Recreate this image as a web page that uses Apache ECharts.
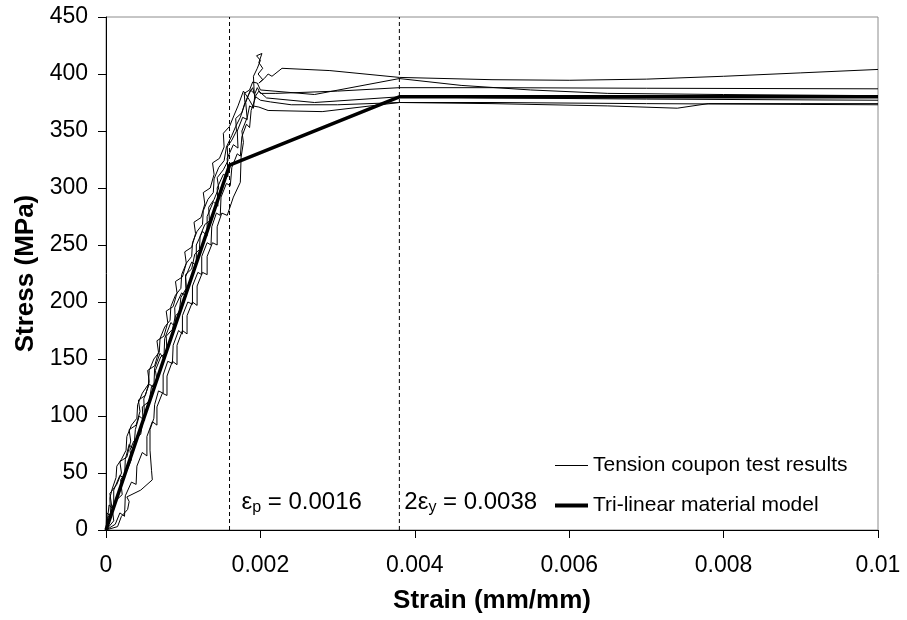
<!DOCTYPE html>
<html>
<head>
<meta charset="utf-8">
<script src="https://cdn.jsdelivr.net/npm/echarts@6/dist/echarts.min.js"></script>
<style>html,body{margin:0;padding:0;background:#fff}#c{width:907px;height:620px}</style>
</head>
<body>
<div id="c"></div>
<script>
// ---- data (strain mm/mm, stress MPa) ----
var test1 = [[0,0],[0.00002,10],[0.00004,22],[0.0001,18],[0.0001,35],[0.00018,48],[0.00024,45],[0.00025,62],[0.0003,75],[0.00036,70],[0.00038,88],[0.00043,100],[0.0005,96],[0.00049,115],[0.00056,128],[0.00062,125],[0.00063,142],[0.0007,155],[0.00075,150],[0.00076,168],[0.00084,182],[0.0009,178],[0.00089,195],[0.00098,208],[0.00104,205],[0.00103,222],[0.00111,235],[0.00117,232],[0.00117,250],[0.00125,262],[0.00131,258],[0.00131,275],[0.00139,288],[0.00145,284],[0.00144,300],[0.00152,312],[0.00158,310],[0.00157,326],[0.00165,338],[0.00171,335],[0.0017,350],[0.00177,362],[0.00183,360],[0.00181,375],[0.00187,386],[0.00192,383],[0.00191,398],[0.00196,405],[0.002,412],[0.00195,416],[0.00202,418],[0.00198,410],[0.00203,405],[0.00197,400],[0.00203,395],[0.00198,392],[0.00205,396],[0.0021,400],[0.00215,398],[0.00228,405],[0.0029,403],[0.0038,397],[0.005,395],[0.006,394.5],[0.007,395.5],[0.008,398],[0.009,401],[0.01,404]];
var test2 = [[0,0],[0.0001,8],[0.00008,20],[0.00013,26],[0.00021,31],[0.00019,44],[0.00027,52],[0.00033,62],[0.00031,70],[0.00036,78],[0.00045,84],[0.00048,97],[0.00047,108],[0.00056,113],[0.00059,126],[0.00066,131],[0.00064,140],[0.00071,152],[0.00079,156],[0.00078,170],[0.00086,176],[0.0009,188],[0.00095,191],[0.00097,204],[0.00104,212],[0.00103,224],[0.00111,229],[0.00115,242],[0.00121,246],[0.00122,258],[0.00128,268],[0.00134,271],[0.00133,283],[0.0014,290],[0.00146,300],[0.00144,309],[0.00152,316],[0.00158,324],[0.00157,336],[0.00163,342],[0.00169,350],[0.00168,361],[0.00176,366],[0.0018,375],[0.00179,383],[0.00186,386],[0.0019,393],[0.00196,392],[0.002,386],[0.0027,382],[0.0038,396],[0.0046,390],[0.0055,386],[0.0065,383],[0.008,382],[0.01,381]];
var test3 = [[0,0],[0.00012,5],[0.00018,15],[0.00024,12],[0.00025,30],[0.00033,42],[0.00039,40],[0.0004,56],[0.00047,68],[0.00053,65],[0.00053,82],[0.0006,95],[0.00066,92],[0.00066,108],[0.00073,120],[0.00079,118],[0.00079,135],[0.00086,148],[0.00092,145],[0.00092,162],[0.00099,175],[0.00105,172],[0.00105,188],[0.00112,200],[0.00118,197],[0.00118,214],[0.00125,226],[0.00131,224],[0.00131,240],[0.00138,252],[0.00144,250],[0.00144,266],[0.0015,278],[0.00157,276],[0.00165,292],[0.00174,305],[0.00175,327],[0.00178,340],[0.00176,350],[0.00183,362],[0.00186,372],[0.00191,370],[0.00193,383],[0.00196,388],[0.002,383],[0.0022,383],[0.003,385],[0.0038,388],[0.005,388],[0.007,387.5],[0.01,387]];
var test4 = [[0,0],[0.00001,15],[0.00006,12],[0.00005,28],[0.00008,36],[0.00013,46],[0.00014,56],[0.0002,62],[0.00026,70],[0.00027,82],[0.00033,92],[0.0004,98],[0.00041,110],[0.00047,120],[0.00055,128],[0.00056,140],[0.00062,150],[0.00069,156],[0.0007,168],[0.00076,178],[0.00083,184],[0.00084,196],[0.0009,206],[0.00097,212],[0.00098,224],[0.00104,234],[0.00111,240],[0.00112,252],[0.00118,262],[0.00125,268],[0.00126,280],[0.00132,290],[0.00139,296],[0.0014,308],[0.00146,318],[0.00153,324],[0.00156,336],[0.00163,346],[0.00168,354],[0.00174,362],[0.00178,370],[0.00181,376],[0.00184,381],[0.00188,386],[0.0019,388],[0.00193,380],[0.00198,385],[0.00208,379],[0.0027,375],[0.0038,380],[0.005,379],[0.007,378],[0.01,377]];
var test5 = [[0,0],[0.00015,3],[0.0002,12],[0.00028,18],[0.0003,25],[0.00027,29],[0.00045,35],[0.0006,44],[0.00059,52],[0.00057,70],[0.00057,88],[0.00062,98],[0.00063,110],[0.00068,122],[0.00074,120],[0.00074,136],[0.0008,148],[0.00086,146],[0.00087,162],[0.00094,175],[0.00099,172],[0.00099,188],[0.00106,200],[0.00112,198],[0.00112,214],[0.00119,226],[0.00124,224],[0.00124,240],[0.00131,252],[0.00136,250],[0.00137,266],[0.00143,278],[0.00148,276],[0.00149,292],[0.00156,304],[0.00161,302],[0.00163,318],[0.0017,330],[0.00174,328],[0.00176,345],[0.00182,356],[0.00186,353],[0.00188,368],[0.00194,380],[0.002,377],[0.00213,375.5],[0.0024,373],[0.003,373],[0.0038,375],[0.005,374],[0.0065,372],[0.0074,370],[0.0078,374],[0.009,374],[0.01,374]];
var test6 = [[0,0],[0.00002,10],[0.00008,18],[0.00005,32],[0.00014,40],[0.0002,50],[0.00018,60],[0.00027,64],[0.00032,78],[0.0003,88],[0.00039,92],[0.00044,104],[0.00042,114],[0.00051,118],[0.00056,130],[0.00054,140],[0.00063,144],[0.00068,156],[0.00066,166],[0.00075,170],[0.0008,182],[0.00078,192],[0.00087,196],[0.00092,208],[0.0009,218],[0.00099,222],[0.00104,234],[0.00102,244],[0.00111,248],[0.00116,260],[0.00114,270],[0.00123,274],[0.00128,286],[0.00126,296],[0.00135,300],[0.0014,312],[0.00138,322],[0.00147,326],[0.00153,336],[0.00152,348],[0.0016,354],[0.00166,364],[0.00171,372],[0.00178,385],[0.00185,378],[0.0019,372],[0.00198,371],[0.0021,368],[0.0028,367],[0.0038,375],[0.005,375],[0.007,374],[0.01,373]];
var model = [[0,0],[0.0016,320],[0.0038,380],[0.01,380]];
var guideStrains = [0.0016, 0.0038];
var xTicks = {min: 0, max: 0.01, interval: 0.002};
var yTicks = {min: 0, max: 450, interval: 50};
var testName = 'Tension coupon test results';
var modelName = 'Tri-linear material model';

var FONT = 'Liberation Sans, Arial, sans-serif';
var NARROW = 'Liberation Sans Narrow, Arial Narrow, Liberation Sans, sans-serif';
var chart = echarts.init(document.getElementById('c'));
var tests = [test1, test2, test3, test4, test5, test6];
var series = [];
guideStrains.forEach(function (v) {
  series.push({
    name: 'guide', type: 'line', data: [[v, yTicks.min], [v, yTicks.max]],
    symbol: 'none', silent: true, z: 1,
    lineStyle: {color: '#000', type: [4, 3], width: 1}
  });
});
tests.forEach(function (d) {
  series.push({
    name: testName, type: 'line', data: d, symbol: 'none', silent: true,
    lineStyle: {color: '#000', width: 1}, itemStyle: {color: '#000'}, z: 2
  });
});
series.push({
  name: modelName, type: 'line', data: model, symbol: 'none', silent: true,
  lineStyle: {color: '#000', width: 3.5}, itemStyle: {color: '#000'}, z: 3
});

chart.setOption({
  animation: false,
  backgroundColor: '#fff',
  grid: {left: 106, right: 29, top: 17, bottom: 90, show: true, borderColor: '#8c8c8c', borderWidth: 1},
  xAxis: {
    type: 'value', min: xTicks.min, max: xTicks.max, interval: xTicks.interval,
    name: 'Strain (mm/mm)', nameLocation: 'middle', nameGap: 58,
    nameTextStyle: {fontFamily: FONT, fontSize: 26, fontWeight: 'bold', color: '#000'},
    axisLine: {lineStyle: {color: '#000', width: 1}},
    axisTick: {show: true, inside: false, length: 8, lineStyle: {color: '#000'}},
    axisLabel: {fontFamily: NARROW, fontSize: 23, color: '#000', margin: 24},
    splitLine: {show: false}
  },
  yAxis: {
    type: 'value', min: yTicks.min, max: yTicks.max, interval: yTicks.interval,
    name: 'Stress (MPa)', nameLocation: 'middle', nameGap: 66, nameRotate: 90,
    nameTextStyle: {fontFamily: FONT, fontSize: 26, fontWeight: 'bold', color: '#000'},
    axisLine: {show: true, lineStyle: {color: '#000', width: 1}},
    axisTick: {show: true, inside: false, length: 8, lineStyle: {color: '#000'}},
    axisLabel: {fontFamily: NARROW, fontSize: 23, color: '#000', margin: 18},
    splitLine: {show: false}
  },
  legend: [
    {orient: 'vertical', left: 550, top: 450, itemWidth: 33, itemHeight: 1, itemGap: 4,
     icon: 'rect', textStyle: {fontFamily: FONT, fontSize: 21, color: '#000'},
     data: [testName], selectedMode: false},
    {orient: 'vertical', left: 550, top: 490, itemWidth: 33, itemHeight: 4, itemGap: 4,
     icon: 'rect', textStyle: {fontFamily: FONT, fontSize: 21, color: '#000'},
     data: [modelName], selectedMode: false}
  ],
  series: series
});

function place() {
  var p1 = chart.convertToPixel({gridIndex: 0}, [guideStrains[0], 0]);
  var p2 = chart.convertToPixel({gridIndex: 0}, [guideStrains[1], 0]);
  var rich = {
    m: {fontFamily: FONT, fontSize: 24, color: '#000', lineHeight: 28},
    s: {fontFamily: FONT, fontSize: 16, color: '#000', lineHeight: 28, padding: [11, 0, 0, 0]}
  };
  chart.setOption({
    graphic: [
      {type: 'text', left: p1[0] + 12, top: p1[1] - 41, silent: true,
       style: {text: '{m|ε}{s|p}{m| = 0.0016}', rich: rich}},
      {type: 'text', left: p2[0] + 5, top: p2[1] - 41, silent: true,
       style: {text: '{m|2ε}{s|y}{m| = 0.0038}', rich: rich}}
    ]
  });
}
place();
</script>
</body>
</html>
